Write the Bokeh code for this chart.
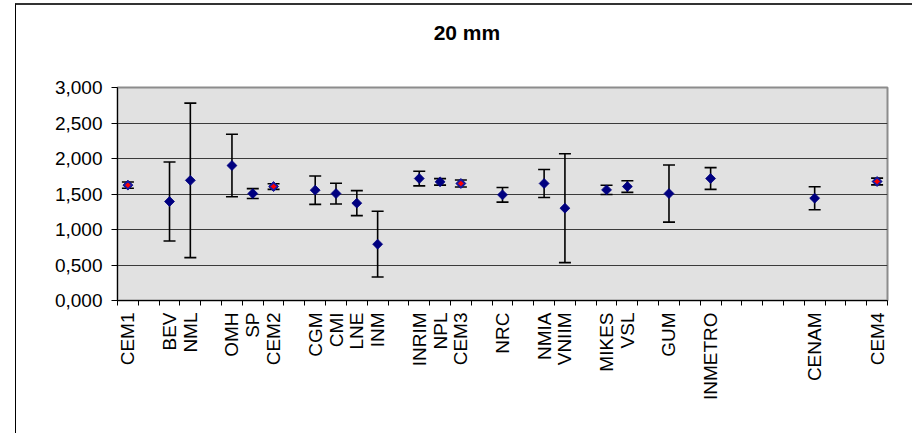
import math
from bokeh.plotting import figure
from bokeh.layouts import column
from bokeh.models import (ColumnDataSource, Range1d, FixedTicker, Whisker, TeeHead)
from bokeh.core.properties import value
from bokeh.embed import file_html
from bokeh.resources import INLINE

# ---- data ----
labs = ["CEM1", "BEV", "NML", "OMH", "SP", "CEM2", "CGM", "CMI", "LNE", "INM",
        "INRIM", "NPL", "CEM3", "NRC", "NMIA", "VNIIM", "MIKES", "VSL", "GUM",
        "INMETRO", "CENAM", "CEM4"]
slots = [0, 2, 3, 5, 6, 7, 9, 10, 11, 12, 14, 15, 16, 18, 20, 21, 23, 24, 26, 28, 33, 36]
vals = [1.625, 1.394, 1.692, 1.901, 1.506, 1.605, 1.554, 1.506, 1.371, 0.793,
        1.718, 1.671, 1.648, 1.488, 1.648, 1.300, 1.558, 1.605, 1.506, 1.718,
        1.441, 1.676]
unc = [0.045, 0.557, 1.088, 0.440, 0.070, 0.040, 0.200, 0.146, 0.176, 0.463,
       0.103, 0.046, 0.050, 0.103, 0.198, 0.766, 0.066, 0.082, 0.402, 0.153,
       0.162, 0.047]
ref_labs = ["CEM1", "CEM2", "CEM3", "CEM4"]
n_slots = 37
y_ticks = [0.0, 0.5, 1.0, 1.5, 2.0, 2.5, 3.0]
y_tick_labels = ["0,000", "0,500", "1,000", "1,500", "2,000", "2,500", "3,000"]
title_text = "20 mm"

FONT = "Liberation Sans"
W = 896
H_TITLE = 53
H_MAIN = 375
MB_L, MB_R = 101, 25

xs = [s + 0.5 for s in slots]
src = ColumnDataSource(dict(x=xs, y=vals,
                            upper=[v + u for v, u in zip(vals, unc)],
                            lower=[v - u for v, u in zip(vals, unc)],
                            name=labs))
ref_idx = [labs.index(r) for r in ref_labs]
src_ref = ColumnDataSource(dict(x=[xs[i] for i in ref_idx], y=[vals[i] for i in ref_idx]))

xr = Range1d(0, n_slots)

# ---- title strip ----
tfig = figure(width=W, height=H_TITLE, output_backend="svg", toolbar_location=None,
              x_range=xr, y_range=Range1d(0, H_TITLE),
              x_axis_type=None, y_axis_type=None,
              min_border_left=MB_L, min_border_right=MB_R, min_border_top=0, min_border_bottom=0)
tfig.outline_line_color = None
tfig.background_fill_color = "white"
tfig.border_fill_color = "white"
tfig.grid.visible = False
tfig.text(x=[16.79], y=[H_TITLE - 26.7], text=[title_text], text_align="center",
          text_baseline="middle", text_font=value(FONT), text_font_size="21px",
          text_font_style="bold", text_color="black")

# ---- main chart ----
p = figure(width=W, height=H_MAIN, output_backend="svg", toolbar_location=None,
           x_range=xr, y_range=Range1d(0, 3),
           min_border_left=MB_L, min_border_right=MB_R, min_border_top=29, min_border_bottom=133)

p.background_fill_color = "#e1e1e1"
p.border_fill_color = "white"
p.outline_line_color = "#8c8c8c"
p.outline_line_width = 2

# y axis
p.yaxis.ticker = FixedTicker(ticks=y_ticks)
p.yaxis.major_label_overrides = {t: l for t, l in zip(y_ticks, y_tick_labels)}
p.yaxis.major_label_text_font = FONT
p.yaxis.major_label_text_font_size = "19px"
p.yaxis.major_label_text_color = "black"
p.yaxis.major_tick_in = 0
p.yaxis.major_tick_out = 6
p.yaxis.minor_tick_line_color = None
p.yaxis.major_label_standoff = 9
p.yaxis.axis_line_color = "black"
p.yaxis.major_tick_line_color = "black"

# x axis
p.xaxis.ticker = FixedTicker(ticks=xs, minor_ticks=list(range(n_slots + 1)))
p.xaxis.major_label_overrides = {x: l for x, l in zip(xs, labs)}
p.xaxis.major_label_orientation = math.pi / 2
p.xaxis.major_label_text_font = FONT
p.xaxis.major_label_text_font_size = "19px"
p.xaxis.major_label_text_color = "black"
p.xaxis.major_tick_line_color = None
p.xaxis.major_tick_in = 0
p.xaxis.major_tick_out = 5
p.xaxis.minor_tick_in = 0
p.xaxis.minor_tick_out = 5
p.xaxis.minor_tick_line_color = "black"
p.xaxis.major_label_standoff = 7
p.xaxis.axis_line_color = "black"

p.xgrid.grid_line_color = None
p.ygrid.ticker = FixedTicker(ticks=y_ticks[1:-1])
p.ygrid.grid_line_color = "#3a3a3a"
p.ygrid.grid_line_width = 1

# error bars
wh = Whisker(source=src, base="x", upper="upper", lower="lower", dimension="height",
             line_color="black", line_width=1.6,
             upper_head=TeeHead(size=12, line_color="black", line_width=1.6),
             lower_head=TeeHead(size=12, line_color="black", line_width=1.6))
p.add_layout(wh)

# markers
p.scatter("x", "y", source=src, marker="square", angle=math.pi / 4, size=7,
          fill_color="#000080", line_color="#000080", line_width=0.8)
p.scatter("x", "y", source=src_ref, marker="square", angle=math.pi / 4, size=5.5,
          fill_color="#ff0000", line_color="#1a1aa0", line_width=1.6)

lay = column(tfig, p)
lay.margin = (3, 0, 0, 15)
lay.styles = {"border-left": "1px solid #000000", "border-top": "2px solid #333333"}

open("out.html", "w").write(file_html(lay, INLINE))
